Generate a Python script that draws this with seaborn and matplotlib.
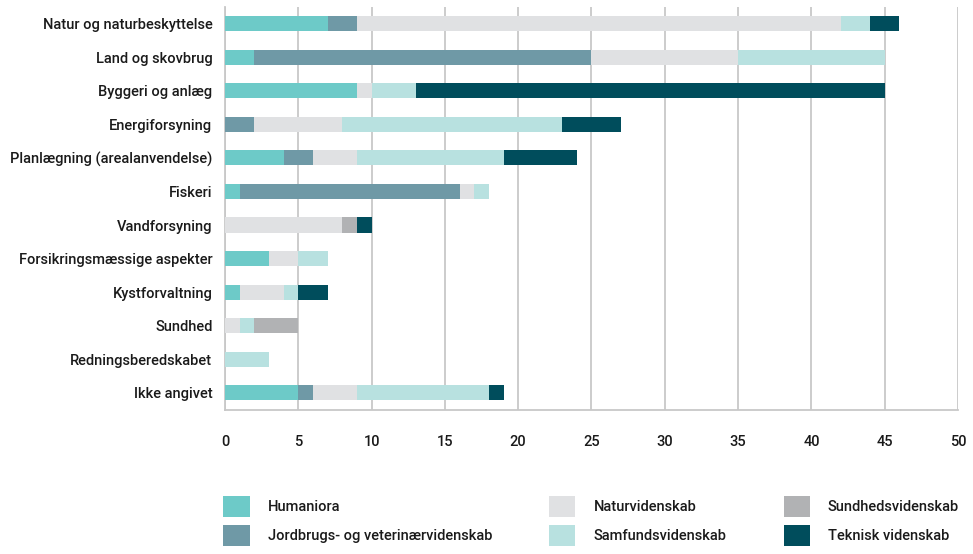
import matplotlib
matplotlib.use("Agg")
import matplotlib.pyplot as plt
import seaborn as sns
import pandas as pd
import numpy as np
from matplotlib.patches import Patch

categories = ["Natur og naturbeskyttelse", "Land og skovbrug", "Byggeri og anlæg",
              "Energiforsyning", "Planlægning (arealanvendelse)", "Fiskeri",
              "Vandforsyning", "Forsikringsmæssige aspekter", "Kystforvaltning",
              "Sundhed", "Redningsberedskabet", "Ikke angivet"]

series_names = ["Humaniora", "Jordbrugs- og veterinærvidenskab", "Naturvidenskab",
                "Samfundsvidenskab", "Sundhedsvidenskab", "Teknisk videnskab"]

humaniora = [7, 2, 9, 0, 4, 1, 0, 3, 1, 0, 0, 5]
jordbrug  = [2, 23, 0, 2, 2, 15, 0, 0, 0, 0, 0, 1]
natur     = [33, 10, 1, 6, 3, 1, 8, 2, 3, 1, 0, 3]
samfund   = [2, 10, 3, 15, 10, 1, 0, 2, 1, 1, 3, 9]
sundhed   = [0, 0, 0, 0, 0, 0, 1, 0, 0, 3, 0, 0]
teknisk   = [2, 0, 32, 4, 5, 0, 1, 0, 2, 0, 0, 1]

colors = ["#6DCAC8", "#6F99A6", "#E0E1E3", "#B8E1E0", "#B1B2B4", "#004D5C"]
xticks = [0, 5, 10, 15, 20, 25, 30, 35, 40, 45, 50]

sns.set_theme(style="white")
plt.rcParams['font.family'] = ['Roboto', 'DejaVu Sans']

data = np.array([humaniora, jordbrug, natur, samfund, sundhed, teknisk], dtype=float)
cum = np.cumsum(data, axis=0)

fig = plt.figure(figsize=(9.73, 5.54), dpi=100)
ax = fig.add_axes([0.2312, 0.2608, 0.7534, 0.7266])

for i in range(len(series_names) - 1, -1, -1):
    df = pd.DataFrame({"cat": categories, "val": cum[i]})
    sns.barplot(data=df, x="val", y="cat", orient="h", color=colors[i],
                saturation=1, width=0.45, linewidth=0, ax=ax, zorder=3)

ax.set_xlim(0, 50)
ax.set_xticks(xticks)
ax.set_xticklabels([str(t) for t in xticks])
ax.set_xlabel("")
ax.set_ylabel("")
ax.xaxis.grid(True, color="#C8C8C8", linewidth=1.3, zorder=0)
ax.yaxis.grid(False)
for s in ["top", "right"]:
    ax.spines[s].set_visible(False)
ax.spines["left"].set_color("#C8C8C8")
ax.spines["left"].set_linewidth(1.3)
ax.spines["bottom"].set_color("#C8C8C8")
ax.spines["bottom"].set_linewidth(1.3)
ax.tick_params(axis="x", length=0, pad=18, labelsize=10.5, labelcolor="#1a1a1a")
ax.tick_params(axis="y", length=0, pad=9, labelsize=10.5, labelcolor="#1a1a1a")
for lab in ax.get_xticklabels() + ax.get_yticklabels():
    lab.set_fontweight("medium")

handles = [Patch(facecolor=c, edgecolor="none") for c in colors]
leg = fig.legend(handles, series_names, loc="upper left", bbox_to_anchor=(0.216, 0.128),
                 ncol=3, frameon=False, handlelength=1.8, handleheight=1.8,
                 handletextpad=1.25, columnspacing=3.9, labelspacing=0.55,
                 fontsize=10.5)
for t in leg.get_texts():
    t.set_fontweight("medium")
    t.set_color("#1a1a1a")

fig.savefig("out.png", dpi=100)
